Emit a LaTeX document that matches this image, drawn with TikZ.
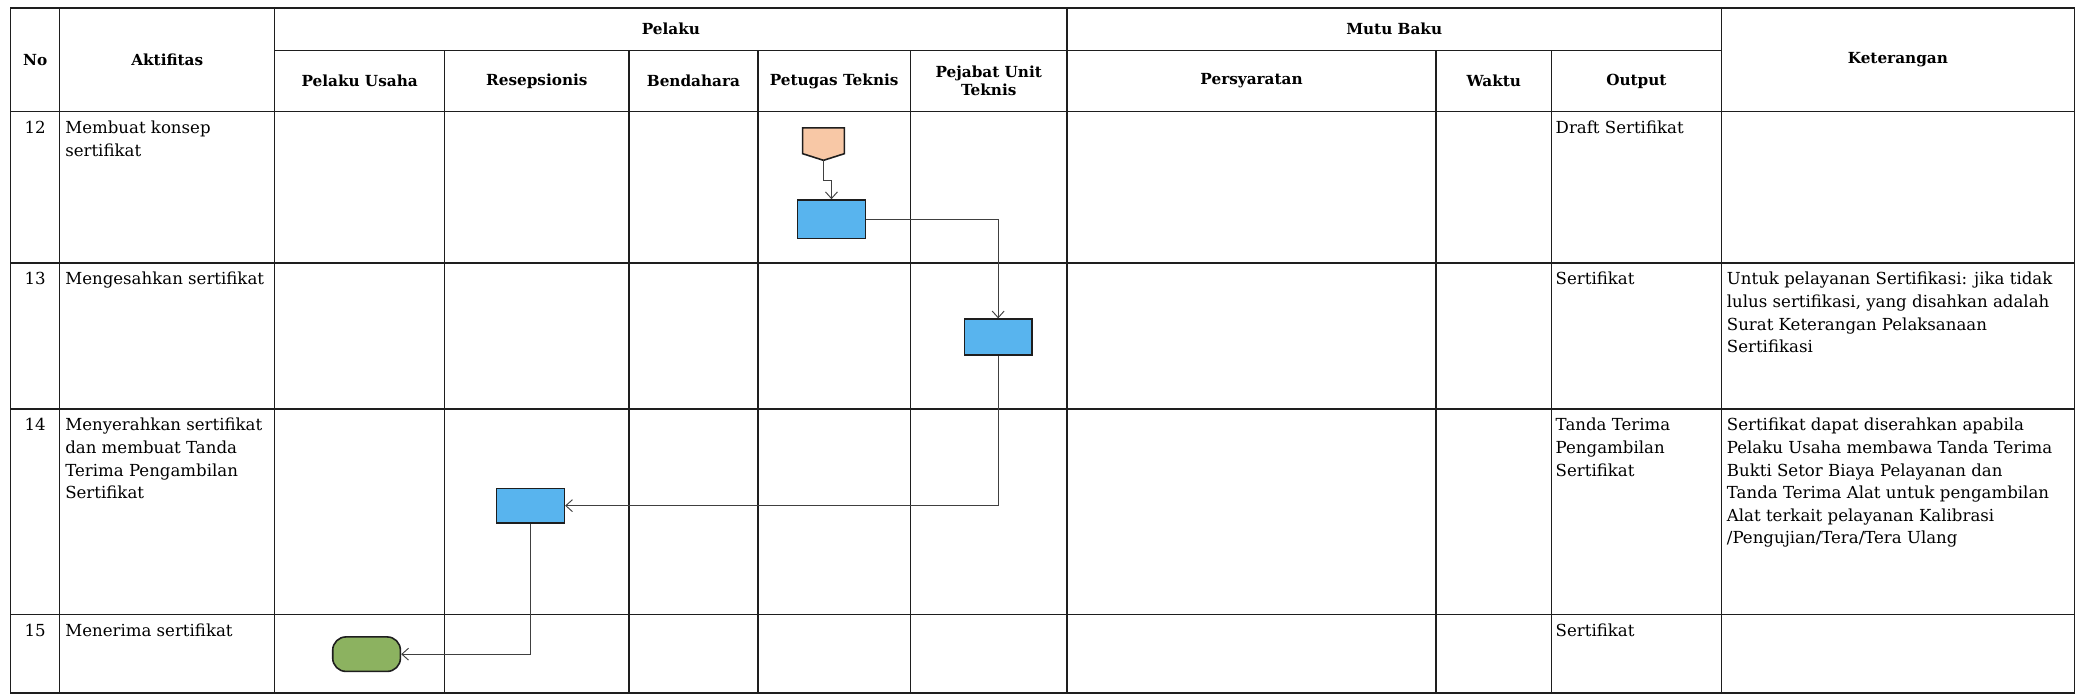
\documentclass[tikz,border=0pt]{standalone}
\usepackage{fontspec}
\setmainfont{DejaVu Serif}
\usetikzlibrary{arrows.meta,calc}
\definecolor{procblue}{RGB}{88,180,238}
\definecolor{peach}{RGB}{248,200,166}
\definecolor{termgreen}{RGB}{140,178,96}
\definecolor{ink}{RGB}{30,30,30}
\tikzset{
  gridline/.style={line width=1.1pt, draw=ink},
  hdr/.style={font=\fontsize{11.5}{14}\selectfont\bfseries, align=center, inner sep=0pt},
  body/.style={font=\fontsize{12.5}{17}\selectfont, align=left, anchor=north west, inner sep=0pt},
  num/.style={font=\fontsize{12.5}{17}\selectfont, anchor=north, inner sep=0pt},
  proc/.style={draw=ink, line width=1.2pt, fill=procblue, minimum width=51pt, minimum height=27pt, inner sep=0pt},
  term/.style={draw=ink, line width=1.2pt, fill=termgreen, rounded corners=10pt, minimum width=51pt, minimum height=26pt, inner sep=0pt},
  offp/.style={minimum width=31pt, minimum height=24pt, inner sep=0pt},
  flow/.style={draw=ink!85, line width=0.7pt, -{Straight Barb[length=5pt,width=9pt]}},
}
\begin{document}
\begin{tikzpicture}[x=1pt,y=-1pt]
\useasboundingbox (0,0) rectangle (1568,524);
\fill[white] (0,0) rectangle (1568,524);
% outer frame
\draw[gridline] (8,6) rectangle (1563,522);
% horizontal lines
\draw[gridline] (207,38) -- (1297,38);
\draw[gridline] (8,84) -- (1563,84);
\draw[gridline] (8,198) -- (1563,198);
\draw[gridline] (8,308) -- (1563,308);
\draw[gridline] (8,463) -- (1563,463);
% vertical lines
\draw[gridline] (45,6) -- (45,522);
\draw[gridline] (207,6) -- (207,522);
\draw[gridline] (804,6) -- (804,522);
\draw[gridline] (1297,6) -- (1297,522);
\foreach \x in {335,474,571,686,1082,1169} \draw[gridline] (\x,38) -- (\x,522);
% headers
\node[hdr] (hNo) at (26.5,45) {No};
\node[hdr] (hAkt) at (126,45) {Aktifitas};
\node[hdr] (hPel) at (505.5,22) {Pelaku};
\node[hdr] (hMutu) at (1050.5,22) {Mutu Baku};
\node[hdr] (hKet) at (1430,45) {Keterangan};
\node[hdr] (hPU) at (271,61) {Pelaku Usaha};
\node[hdr] (hRes) at (404.5,61) {Resepsionis};
\node[hdr] (hBen) at (522.5,61) {Bendahara};
\node[hdr] (hPet) at (628.5,61) {Petugas Teknis};
\node[hdr] (hPej) at (745,61) {Pejabat Unit\\Teknis};
\node[hdr] (hPers) at (943,61) {Persyaratan};
\node[hdr] (hWak) at (1125.5,61) {Waktu};
\node[hdr] (hOut) at (1233,61) {Output};
% row numbers
\node[num] (n12) at (26.5,91) {12};
\node[num] (n13) at (26.5,205) {13};
\node[num] (n14) at (26.5,315) {14};
\node[num] (n15) at (26.5,470) {15};
% activities
\node[body] (a12) at (49,91) {Membuat konsep\\sertifikat};
\node[body] (a13) at (49,205) {Mengesahkan sertifikat};
\node[body] (a14) at (49,315) {Menyerahkan sertifikat\\dan membuat Tanda\\Terima Pengambilan\\Sertifikat};
\node[body] (a15) at (49,470) {Menerima sertifikat};
% outputs
\node[body] (o12) at (1172,91) {Draft Sertifikat};
\node[body] (o13) at (1172,205) {Sertifikat};
\node[body] (o14) at (1172,315) {Tanda Terima\\Pengambilan\\Sertifikat};
\node[body] (o15) at (1172,470) {Sertifikat};
% keterangan
\node[body] (k13) at (1301,205) {Untuk pelayanan Sertifikasi: jika tidak\\lulus sertifikasi, yang disahkan adalah\\Surat Keterangan Pelaksanaan\\Sertifikasi};
\node[body] (k14) at (1301,315) {Sertifikat dapat diserahkan apabila\\Pelaku Usaha membawa Tanda Terima\\Bukti Setor Biaya Pelayanan dan\\Tanda Terima Alat untuk pengambilan\\Alat terkait pelayanan Kalibrasi\\/Pengujian/Tera/Tera Ulang};
% flow shapes
\node[offp] (op) at (620.5,108.6) {};
\draw[draw=ink, line width=1.2pt, fill=peach] (op.north west) -- (op.north east) -- ([yshift=5pt]op.south east) -- (op.south) -- ([yshift=5pt]op.south west) -- cycle;
\node[proc, minimum height=29pt] (r1) at (626.5,165.2) {};
\node[proc] (r2) at (752.1,254) {};
\node[proc, minimum height=26pt] (r3) at (399.7,381) {};
\node[term] (t) at (276.2,492.9) {};
% connectors
\draw[flow] (op.south) -- ++(0,15) -| (r1.north);
\draw[flow] (r1.east) -| (r2.north);
\draw[flow] (r2.south) |- (r3.east);
\draw[flow] (r3.south) |- (t.east);
\end{tikzpicture}
\end{document}
